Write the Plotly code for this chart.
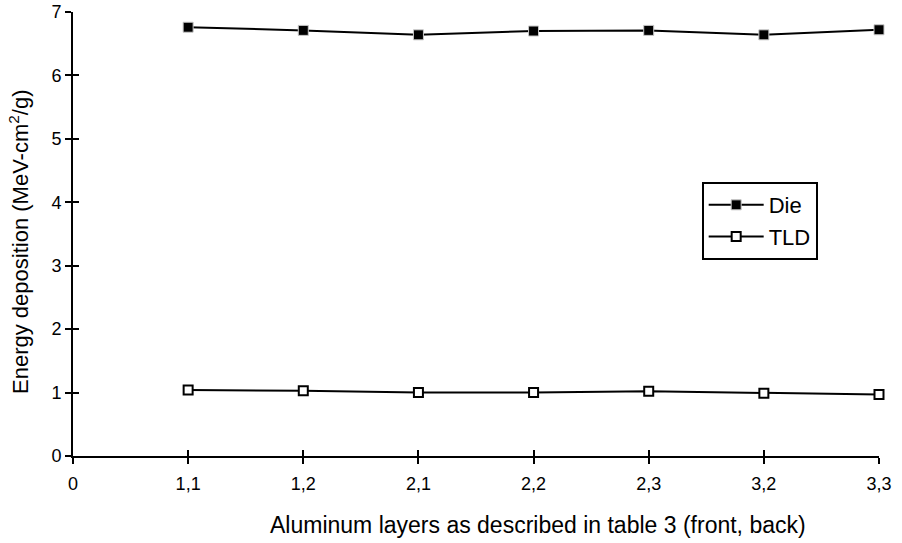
import plotly.graph_objects as go

categories = ["0", "1,1", "1,2", "2,1", "2,2", "2,3", "3,2", "3,3"]
layers = ["1,1", "1,2", "2,1", "2,2", "2,3", "3,2", "3,3"]
die = [6.76, 6.71, 6.64, 6.70, 6.71, 6.64, 6.72]
tld = [1.04, 1.03, 1.00, 1.00, 1.02, 0.99, 0.97]
y_ticks = [0, 1, 2, 3, 4, 5, 6, 7]
x_title = "Aluminum layers as described in table 3 (front, back)"
y_title = "Energy deposition (MeV-cm<sup>2</sup>/g)"

xpos = [categories.index(c) for c in layers]
font = "Liberation Sans, Arial, sans-serif"

fig = go.Figure()
fig.add_trace(go.Scatter(
    x=xpos, y=die, name="Die", mode="lines+markers",
    line=dict(color="black", width=2),
    marker=dict(symbol="square", size=10, color="black",
                line=dict(color="#c8c8c8", width=1)),
    cliponaxis=False,
))
fig.add_trace(go.Scatter(
    x=xpos, y=tld, name="TLD", mode="lines+markers",
    line=dict(color="black", width=2),
    marker=dict(symbol="square", size=9, color="white",
                line=dict(color="black", width=2)),
    cliponaxis=False,
))
# invisible trace to hold overlay axes for crossing ticks
fig.add_trace(go.Scatter(x=[0], y=[0], xaxis="x2", yaxis="y2",
                         mode="markers", marker=dict(opacity=0),
                         showlegend=False, hoverinfo="skip"))

fig.update_layout(
    width=902, height=543,
    margin=dict(l=73, r=23, t=12, b=87),
    paper_bgcolor="white", plot_bgcolor="white",
    font=dict(family=font, color="black", size=18),
    showlegend=True,
    legend=dict(x=0.78, y=0.617, xanchor="left", yanchor="top",
                bordercolor="black", borderwidth=2, bgcolor="white",
                font=dict(size=22), tracegroupgap=2, itemwidth=55),
    xaxis=dict(
        range=[0, 7], tickmode="array", automargin=False,
        tickvals=list(range(len(categories))), ticktext=categories,
        showgrid=False, zeroline=False, showline=True,
        linecolor="black", linewidth=2,
        ticks="outside", ticklen=6, tickwidth=1.5, tickcolor="black",
        tickfont=dict(size=18), ticklabelstandoff=4,
    ),
    yaxis=dict(
        range=[0, 7], tickmode="array", tickvals=y_ticks, automargin=False,
        showgrid=False, zeroline=False, showline=True,
        linecolor="black", linewidth=2,
        ticks="outside", ticklen=6, tickwidth=1.5, tickcolor="black",
        tickfont=dict(size=18),
    ),
    xaxis2=dict(range=[0, 7], overlaying="x", anchor="y2", automargin=False,
                tickvals=list(range(len(categories))), showticklabels=False,
                ticks="inside", ticklen=6, tickwidth=1.5, tickcolor="black",
                showgrid=False, zeroline=False, showline=False),
    yaxis2=dict(range=[0, 7], overlaying="y", anchor="x2", automargin=False,
                tickvals=y_ticks, showticklabels=False,
                ticks="inside", ticklen=6, tickwidth=1.5, tickcolor="black",
                showgrid=False, zeroline=False, showline=False),
    annotations=[
        dict(text=x_title, xref="paper", yref="paper", x=0.577, y=-0.155,
             xanchor="center", yanchor="middle", showarrow=False,
             font=dict(size=23)),
        dict(text=y_title, xref="paper", yref="paper", x=-0.067, y=0.482,
             xanchor="center", yanchor="middle", showarrow=False,
             textangle=-90, font=dict(size=22)),
    ],
)

fig.write_html("out.html", config={"displayModeBar": False},
               post_script="document.body.style.margin='0';")
